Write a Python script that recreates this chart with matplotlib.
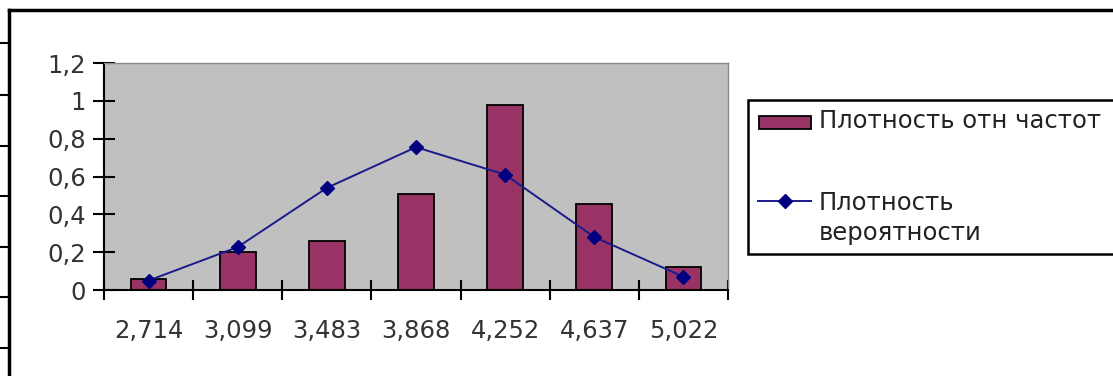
import matplotlib
matplotlib.use("Agg")
import matplotlib.pyplot as plt
from matplotlib.lines import Line2D
from matplotlib.patches import Rectangle
import numpy as np

plt.rcParams['font.family'] = ['DejaVu Sans']

# Data
categories = ['2,714', '3,099', '3,483', '3,868', '4,252', '4,637', '5,022']
rel_freq_density = [0.06, 0.20, 0.26, 0.51, 0.98, 0.455, 0.12]
prob_density = [0.05, 0.227, 0.54, 0.755, 0.61, 0.28, 0.07]
y_ticks = [0, 0.2, 0.4, 0.6, 0.8, 1.0, 1.2]
y_labels = ['0', '0,2', '0,4', '0,6', '0,8', '1', '1,2']
bar_label = 'Плотность отн частот'
line_label = 'Плотность\nвероятности'

W, H = 1113, 376
fig = plt.figure(figsize=(W / 100, H / 100), dpi=100)

def fx(px):
    return px / W

def fy(py):
    return 1 - py / H

ax = fig.add_axes([fx(104), fy(290), fx(728) - fx(104), fy(63) - fy(290)])
ax.set_facecolor('#c0c0c0')

x = np.arange(len(categories))
ax.bar(x, rel_freq_density, width=0.4, color='#993366', edgecolor='black',
       linewidth=1.3, zorder=2)
ax.plot(x, prob_density, color='#1a1a8c', linewidth=1.4, marker='D',
        markersize=7, markerfacecolor='#000080', markeredgecolor='#000080', zorder=3)

ax.set_xlim(-0.5, len(categories) - 0.5)
ax.set_ylim(0, 1.2)
ax.set_yticks(y_ticks)
ax.set_yticklabels(y_labels)
ax.set_xticks(x)
ax.set_xticklabels(categories)
ax.set_xticks(np.arange(len(categories) + 1) - 0.5, minor=True)
ax.tick_params(axis='x', which='major', length=0, pad=21, labelsize=17.5, labelcolor='#333333')
ax.tick_params(axis='x', which='minor', direction='inout', length=14, width=1.5)
ax.tick_params(axis='y', direction='inout', length=16, width=1.5, pad=5,
               labelsize=17.5, labelcolor='#333333')

for side in ['left', 'bottom']:
    ax.spines[side].set_linewidth(1.5)
    ax.spines[side].set_color('black')
for side in ['top', 'right']:
    ax.spines[side].set_linewidth(1)
    ax.spines[side].set_color('#8a8a8a')

# legend drawn by hand to keep the Excel-like layout
tr = fig.transFigure
fig.add_artist(Rectangle((fx(748), fy(254)), fx(1120) - fx(748), fy(100) - fy(254),
                         transform=tr, facecolor='white', edgecolor='black', linewidth=1.8))
fig.add_artist(Rectangle((fx(759), fy(129)), fx(811) - fx(759), fy(116) - fy(129),
                         transform=tr, facecolor='#993366', edgecolor='black', linewidth=1.3))
fig.text(fx(819), fy(121), bar_label, fontsize=17.5, color='#222222', va='center', ha='left')
fig.add_artist(Line2D([fx(758), fx(811)], [fy(201), fy(201)], transform=tr,
                      color='#1a1a8c', linewidth=1.4))
fig.add_artist(Line2D([fx(784.5)], [fy(201)], transform=tr, marker='D', markersize=7,
                      color='#000080', linestyle='none'))
fig.text(fx(819), fy(218), line_label, fontsize=17.5, color='#222222', va='center',
         ha='left', linespacing=1.3)

# outer frame of the screenshot
fig.add_artist(Line2D([fx(9), fx(1113)], [fy(10), fy(10)], transform=tr, color='black', linewidth=2.5))
fig.add_artist(Line2D([fx(9), fx(9)], [fy(10), fy(376)], transform=tr, color='black', linewidth=2.5))
for py in [43, 95, 146, 196, 247, 297, 348]:
    fig.add_artist(Line2D([fx(0), fx(9)], [fy(py), fy(py)], transform=tr, color='black', linewidth=1.5))

fig.savefig('out.png', dpi=100)
